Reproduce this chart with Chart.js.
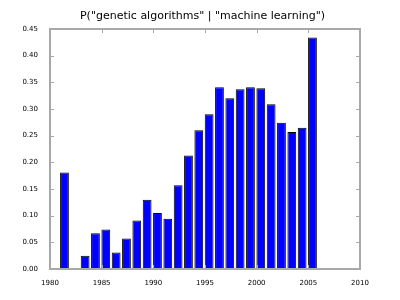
<!DOCTYPE html>
<html>
<head>
<meta charset="utf-8">
<script src="https://cdn.jsdelivr.net/npm/chart.js@4"></script>
<style>
html,body{margin:0;padding:0;background:#fff;}
#wrap{width:400px;height:300px;}
</style>
</head>
<body>
<div id="wrap"><canvas id="c" width="400" height="300"></canvas></div>
<script>
const titleText = 'P("genetic algorithms" | "machine learning")';
const years = [1981,1982,1983,1984,1985,1986,1987,1988,1989,1990,1991,1992,1993,1994,1995,1996,1997,1998,1999,2000,2001,2002,2003,2004,2005];
const probs = [0.181,0.0,0.025,0.067,0.074,0.031,0.057,0.091,0.130,0.105,0.094,0.157,0.213,0.260,0.290,0.341,0.320,0.337,0.341,0.339,0.309,0.274,0.257,0.265,0.434];
const xTicks = [1980,1985,1990,1995,2000,2005,2010];
const yTicks = [0,0.05,0.10,0.15,0.20,0.25,0.30,0.35,0.40,0.45];

const frameColor = '#a8a8a8';
const frame = {
  id:'frame',
  afterDatasetsDraw(chart){
    const {ctx, chartArea:a, scales} = chart;
    ctx.save();
    ctx.strokeStyle = frameColor;
    ctx.lineWidth = 1;
    const L = 4;
    xTicks.forEach(t=>{
      const x = Math.round(scales.x.getPixelForValue(t))+0.5;
      ctx.beginPath();
      ctx.moveTo(x,a.bottom); ctx.lineTo(x,a.bottom-L);
      ctx.moveTo(x,a.top); ctx.lineTo(x,a.top+L);
      ctx.stroke();
    });
    yTicks.forEach(t=>{
      const y = Math.round(scales.y.getPixelForValue(t))+0.5;
      ctx.beginPath();
      ctx.moveTo(a.left,y); ctx.lineTo(a.left+L,y);
      ctx.moveTo(a.right,y); ctx.lineTo(a.right-L,y);
      ctx.stroke();
    });
    ctx.lineWidth = 2;
    ctx.strokeRect(a.left, a.top, a.right-a.left, a.bottom-a.top);
    ctx.restore();
  }
};

new Chart(document.getElementById('c'), {
  type:'bar',
  data:{
    datasets:[{
      data: years.map((y,i)=>({x:y+0.4, y:probs[i]})),
      backgroundColor:'#0000ff',
      borderColor:'#000000',
      borderWidth:1,
      categoryPercentage:1,
      barPercentage:0.85
    }]
  },
  options:{
    responsive:false,
    animation:false,
    devicePixelRatio:1,
    layout:{padding:{left:5,right:0,top:0,bottom:0}},
    plugins:{
      legend:{display:false},
      tooltip:{enabled:false},
      title:{
        display:true,
        text:titleText,
        color:'#000',
        font:{family:'DejaVu Sans',size:11,weight:'normal',lineHeight:1.2},
        padding:{top:10,bottom:5.8}
      }
    },
    scales:{
      x:{
        type:'linear',
        offset:false,
        min:1980,max:2010,
        afterBuildTicks(s){ s.ticks = xTicks.map(v=>({value:v})); },
        afterFit(s){ s.height = 31; },
        grid:{display:false},
        border:{display:false},
        ticks:{
          color:'#000',
          font:{family:'DejaVu Sans',size:7},
          padding:2,
          maxRotation:0,
          autoSkip:false,
          callback:v=>String(v)
        }
      },
      y:{
        min:0,max:0.45,
        afterBuildTicks(s){ s.ticks = yTicks.map(v=>({value:v})); },
        afterFit(s){ s.width = 45; },
        grid:{display:false},
        border:{display:false},
        ticks:{
          color:'#000',
          font:{family:'DejaVu Sans',size:7},
          padding:4,
          autoSkip:false,
          callback:v=>v.toFixed(2)
        }
      },
      y2:{
        position:'right',
        min:0,max:1,
        afterFit(s){ s.width = 40; },
        grid:{display:false},
        border:{display:false},
        ticks:{display:false}
      }
    }
  },
  plugins:[frame]
});
</script>
</body>
</html>
